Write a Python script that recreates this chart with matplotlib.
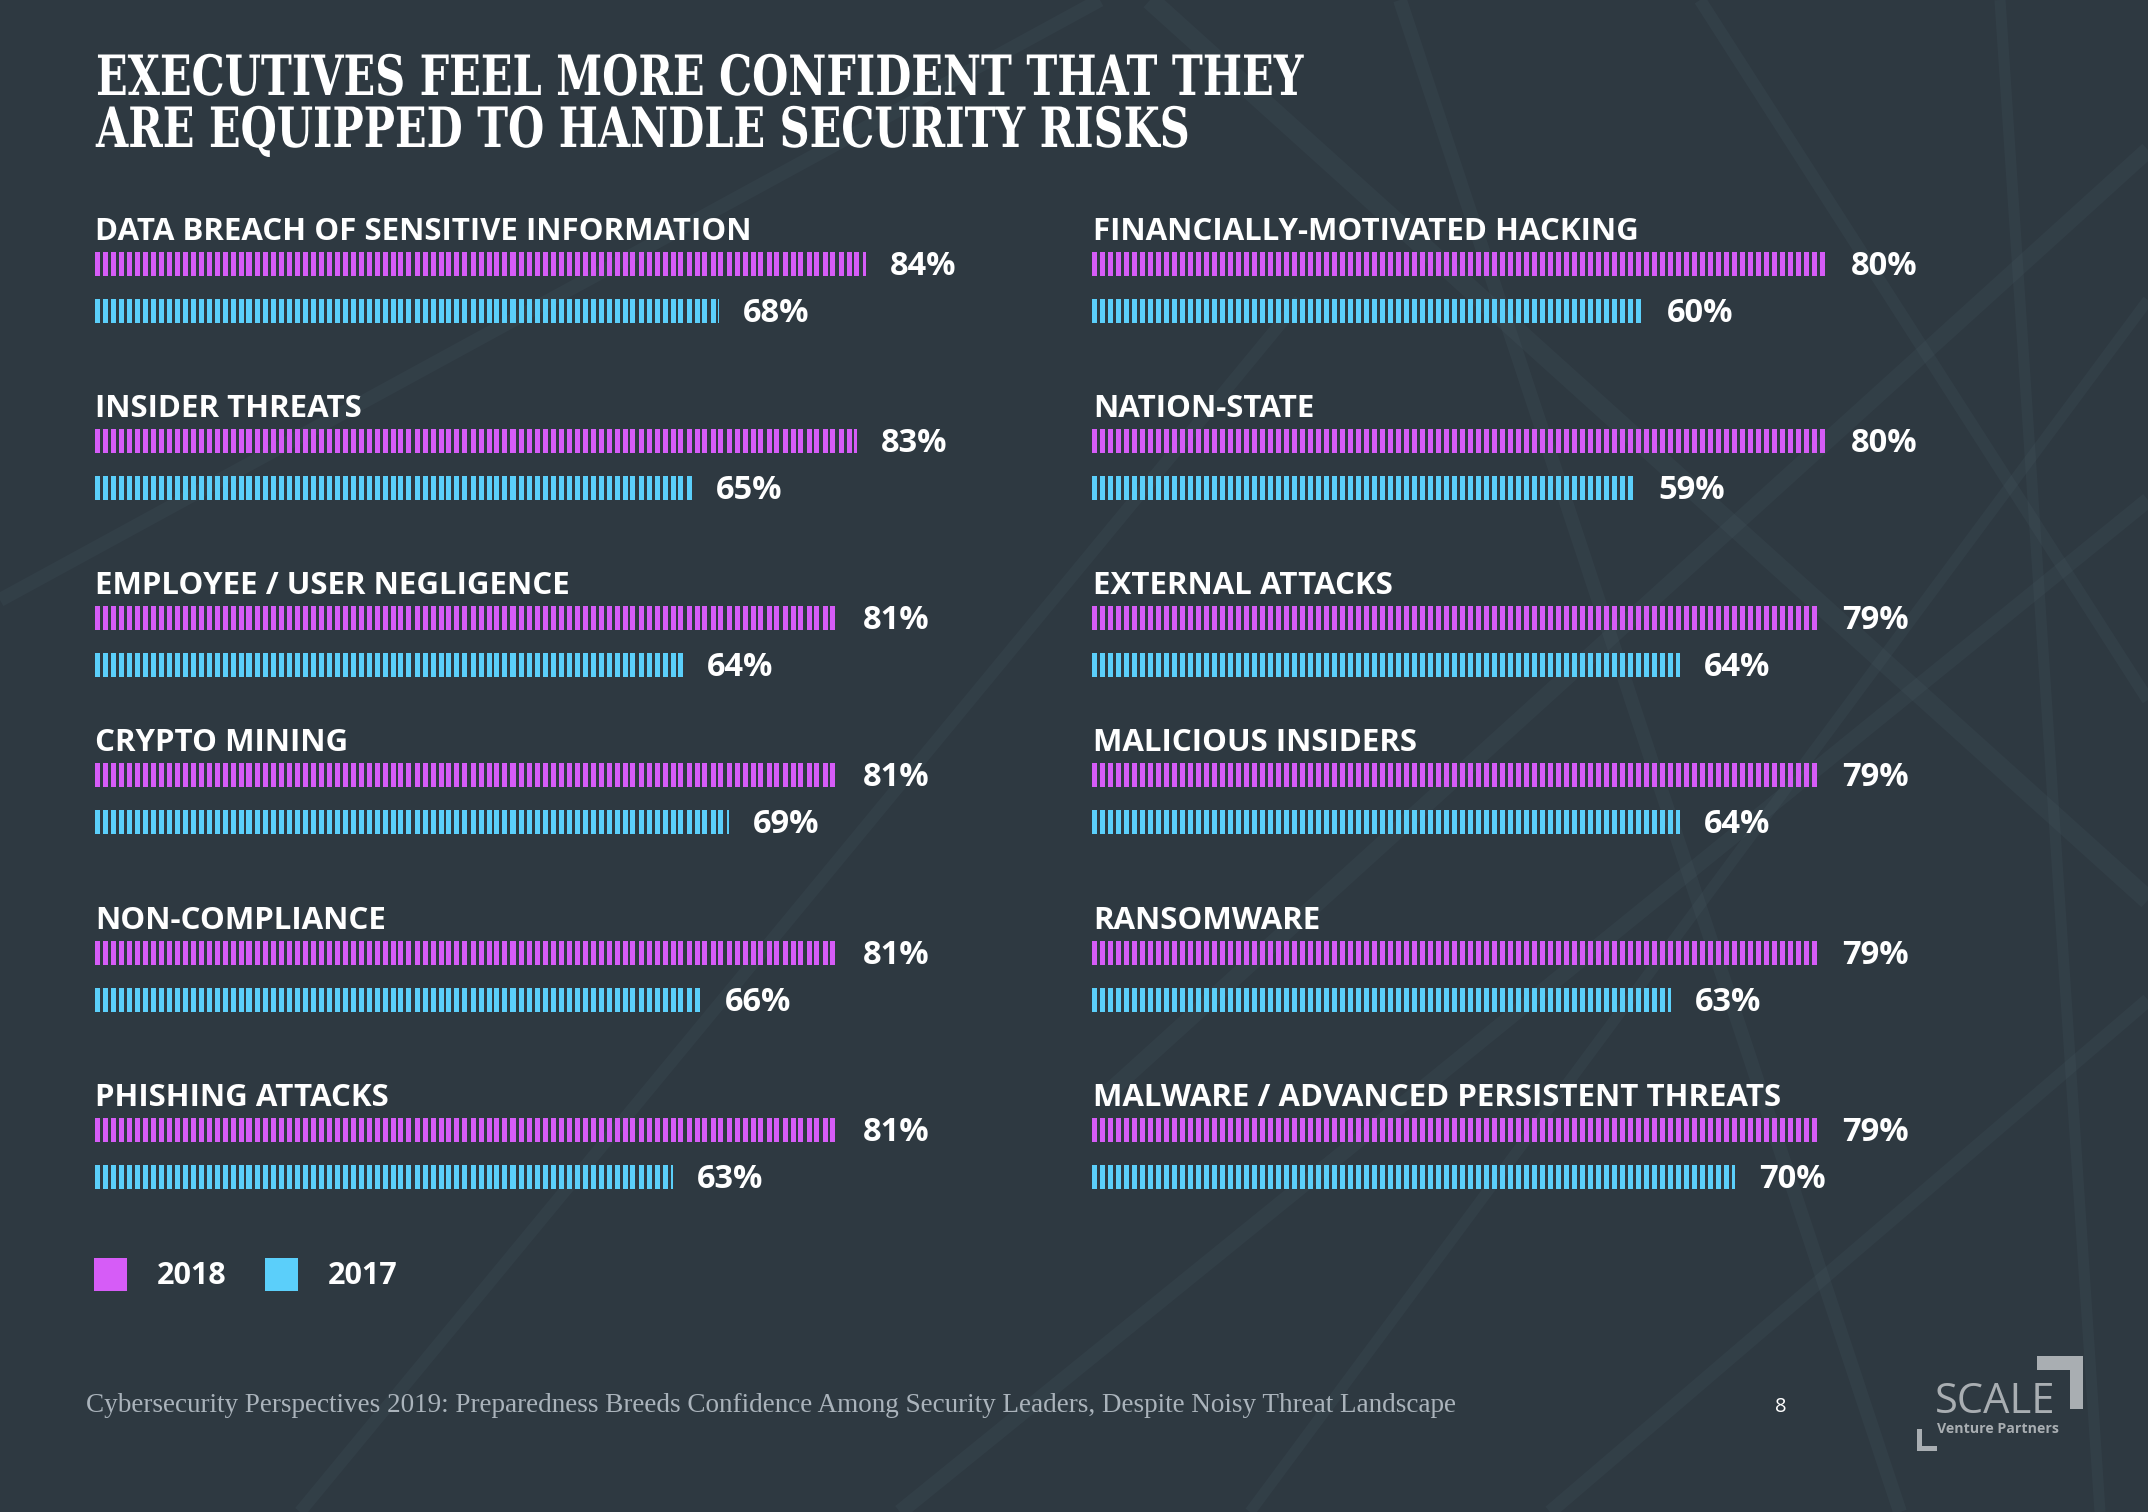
"""Striped paired bar chart: executive confidence in handling security risks."""

import matplotlib
matplotlib.use('Agg')
import matplotlib.pyplot as plt
from matplotlib.patches import Rectangle
from matplotlib.patheffects import AbstractPathEffect
from matplotlib.transforms import Affine2D
import numpy as np

# data
left_labels = ['DATA BREACH OF SENSITIVE INFORMATION', 'INSIDER THREATS',
               'EMPLOYEE / USER NEGLIGENCE', 'CRYPTO MINING',
               'NON-COMPLIANCE', 'PHISHING ATTACKS']
left_2018 = [84, 83, 81, 81, 81, 81]
left_2017 = [68, 65, 64, 69, 66, 63]

right_labels = ['FINANCIALLY-MOTIVATED HACKING', 'NATION-STATE',
                'EXTERNAL ATTACKS', 'MALICIOUS INSIDERS',
                'RANSOMWARE', 'MALWARE / ADVANCED PERSISTENT THREATS']
right_2018 = [80, 80, 79, 79, 79, 79]
right_2017 = [60, 59, 64, 64, 63, 70]

years = ['2018', '2017']

# layout / style
W, H = 2148, 1512
BG = '#2e3941'
C18 = '#d65cf7'
C17 = '#5bcffa'
PX_PER_PCT = 9.19
ROW_Y = [240, 417, 594, 751, 929, 1106]   # label baselines (px)
STRIPE = 8 / PX_PER_PCT
STRIPE_W = 5 / PX_PER_PCT
SANS = ['Open Sans', 'DejaVu Sans']


class Squeeze(AbstractPathEffect):
    """Narrow text horizontally around x0 (display px) - a stand-in for a condensed face."""

    def __init__(self, sx, x0):
        super().__init__()
        self.sx = sx
        self.x0 = x0

    def draw_path(self, renderer, gc, tpath, affine, rgbFace=None):
        t = affine + Affine2D().translate(-self.x0, 0).scale(self.sx, 1).translate(self.x0, 0)
        renderer.draw_path(gc, tpath, t, rgbFace)


def striped_bar(ax, y, value, color):
    starts = np.arange(0, value, STRIPE)
    widths = np.minimum(STRIPE_W, value - starts)
    ax.barh(np.full(len(starts), y), widths, left=starts, height=24,
            color=color, linewidth=0)


def draw_column(ax, labels, v18, v17):
    ax.set_xlim(0, 100)
    ax.set_ylim(H, 0)
    ax.axis('off')
    for y, lab, a, b in zip(ROW_Y, labels, v18, v17):
        ax.text(0.1, y, lab, color='white', fontsize=22.5, fontweight='bold',
                family=SANS, va='baseline', ha='left')
        striped_bar(ax, y + 24, a, C18)
        striped_bar(ax, y + 71, b, C17)
        ax.text(a + 2.6, y + 35, f'{a}%', color='white', fontsize=23.5,
                fontweight='bold', family=SANS, va='baseline', ha='left')
        ax.text(b + 2.6, y + 82, f'{b}%', color='white', fontsize=23.5,
                fontweight='bold', family=SANS, va='baseline', ha='left')


fig = plt.figure(figsize=(W / 100, H / 100), dpi=100)
fig.patch.set_facecolor(BG)

# background / decoration layer in pixel coordinates
bg = fig.add_axes([0, 0, 1, 1])
bg.set_xlim(0, W)
bg.set_ylim(H, 0)
bg.axis('off')
bg.set_facecolor(BG)

# faint network lines in the background
for (x0, y0, x1, y1, lw) in [
        (1150, 0, 2148, 900, 14), (1400, 0, 1900, 1512, 10),
        (2148, 150, 1100, 1100, 12), (1700, 0, 2148, 700, 9),
        (900, 1512, 2148, 500, 11), (1250, 1512, 2148, 300, 8),
        (0, 600, 1100, 0, 10), (300, 1512, 1300, 300, 9),
        (2000, 0, 2100, 1512, 8), (1550, 1512, 2148, 1000, 10)]:
    bg.plot([x0, x1], [y0, y1], color='#5a7480', lw=lw, alpha=0.10,
            solid_capstyle='butt')

title_font = dict(color='white', fontsize=40, fontweight='bold',
                  family=['DejaVu Serif'], va='baseline', ha='left',
                  path_effects=[Squeeze(0.748, 96)])
bg.text(96, 95, 'EXECUTIVES FEEL MORE CONFIDENT THAT THEY', **title_font)
bg.text(96, 147, 'ARE EQUIPPED TO HANDLE SECURITY RISKS', **title_font)

# legend
for x, year, c in [(94, years[0], C18), (265, years[1], C17)]:
    bg.add_patch(Rectangle((x, 1258), 33, 33, color=c, lw=0))
    bg.text(x + 63, 1276, year, color='white', fontsize=22, fontweight='bold',
            family=SANS, va='center', ha='left')

# footer
bg.text(86, 1406, 'Cybersecurity Perspectives 2019: Preparedness Breeds Confidence '
        'Among Security Leaders, Despite Noisy Threat Landscape',
        color='#aab3bb', fontsize=19.5, family=['Liberation Serif'],
        va='center', ha='left')
bg.text(1781, 1407, '8', color='white', fontsize=14.5, family=SANS,
        va='center', ha='center')

# logo
logo = '#a9aeb2'
bg.add_patch(Rectangle((2037, 1356), 46, 14, color=logo, lw=0))
bg.add_patch(Rectangle((2070, 1356), 13, 53, color=logo, lw=0))
bg.add_patch(Rectangle((1917, 1429), 5, 22, color=logo, lw=0))
bg.add_patch(Rectangle((1917, 1446), 20, 5, color=logo, lw=0))
bg.text(1935, 1402, 'SCALE', color=logo, fontsize=30, family=SANS,
        va='center', ha='left')
bg.text(1937, 1429, 'Venture Partners', color=logo, fontsize=10.2,
        fontweight='bold', family=SANS, va='center', ha='left')

width = 100 * PX_PER_PCT / W
ax_l = fig.add_axes([94.5 / W, 0, width, 1])
ax_r = fig.add_axes([1092 / W, 0, width, 1])
draw_column(ax_l, left_labels, left_2018, left_2017)
draw_column(ax_r, right_labels, right_2018, right_2017)

fig.savefig('out.png', dpi=100, facecolor=BG)
